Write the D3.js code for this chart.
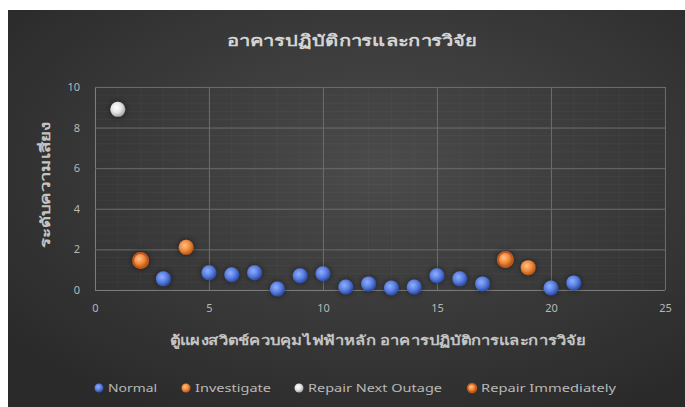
<!DOCTYPE html>
<html>
<head>
<meta charset="utf-8">
<script src="https://cdn.jsdelivr.net/npm/d3@7"></script>
<style>
  html, body { margin: 0; padding: 0; background: #ffffff; }
  svg { display: block; }
  text { font-family: "Noto Sans", "DejaVu Sans", "Liberation Sans", sans-serif; }
</style>
</head>
<body>
<div id="chart"></div>
<script>
// Risk levels of the main switchboards, operations & research building
const chartTitle = "อาคารปฏิบัติการและการวิจัย";
const xAxisTitle = "ตู้แผงสวิตช์ควบคุมไฟฟ้าหลัก อาคารปฏิบัติการและการวิจัย";
const yAxisTitle = "ระดับความเสี่ยง";

const xTicks = [0, 5, 10, 15, 20, 25];
const yTicks = [0, 2, 4, 6, 8, 10];

const seriesNames = ["Normal", "Investigate", "Repair Next Outage", "Repair Immediately"];

const normalX = [3, 5, 6, 7, 8, 9, 10, 11, 12, 13, 14, 15, 16, 17, 20, 21];
const normalY = [0.55, 0.85, 0.75, 0.85, 0.05, 0.7, 0.8, 0.15, 0.3, 0.1, 0.15, 0.7, 0.55, 0.3, 0.1, 0.35];

const investigateX = [4, 19];
const investigateY = [2.1, 1.1];

const repairNextX = [1];
const repairNextY = [8.9];

const repairNowX = [2, 18];
const repairNowY = [1.45, 1.5];

const W = 685, H = 407;
const svg = d3.select("#chart").append("svg").attr("width", W).attr("height", H);
const defs = svg.append("defs");

// background gradient
const bg = defs.append("radialGradient").attr("id", "bg")
  .attr("cx", "55%").attr("cy", "40%").attr("r", "70%");
bg.append("stop").attr("offset", "0%").attr("stop-color", "#4b4b4b");
bg.append("stop").attr("offset", "100%").attr("stop-color", "#2a2a2a");

svg.append("rect").attr("x", 8).attr("y", 10).attr("width", W - 8).attr("height", H - 10)
  .attr("fill", "url(#bg)");

// marker shading
function ball(id, hi, mid, lo) {
  const g = defs.append("radialGradient").attr("id", id)
    .attr("cx", "40%").attr("cy", "38%").attr("r", "62%");
  g.append("stop").attr("offset", "0%").attr("stop-color", hi);
  g.append("stop").attr("offset", "55%").attr("stop-color", mid);
  g.append("stop").attr("offset", "100%").attr("stop-color", lo);
}
ball("gBlue", "#8fb0ff", "#5b7fe0", "#2c4aa8");
ball("gOrange", "#ffc38a", "#f08a3c", "#b9561a");
ball("gGray", "#ffffff", "#e4e4e4", "#a8a8a8");

const glow = defs.append("filter").attr("id", "glow")
  .attr("x", "-80%").attr("y", "-80%").attr("width", "260%").attr("height", "260%");
glow.append("feGaussianBlur").attr("in", "SourceAlpha").attr("stdDeviation", 3).attr("result", "b");
glow.append("feFlood").attr("flood-color", "#000").attr("flood-opacity", 0.55);
glow.append("feComposite").attr("in2", "b").attr("operator", "in").attr("result", "s");
const mg = glow.append("feMerge");
mg.append("feMergeNode").attr("in", "s");
mg.append("feMergeNode").attr("in", "SourceGraphic");

const plot = { left: 95, right: 665, top: 87, bottom: 290 };
const x = d3.scaleLinear().domain([0, 25]).range([plot.left, plot.right]);
const y = d3.scaleLinear().domain([0, 10]).range([plot.bottom, plot.top]);

// minor gridlines
const grid = svg.append("g");
grid.selectAll("line.minorY").data(d3.range(0, 10.01, 0.4)).join("line")
  .attr("x1", plot.left).attr("x2", plot.right)
  .attr("y1", d => y(d)).attr("y2", d => y(d))
  .attr("stroke", "#ffffff").attr("stroke-opacity", 0.035);
grid.selectAll("line.minorX").data(d3.range(0, 25.01, 1)).join("line")
  .attr("y1", plot.top).attr("y2", plot.bottom)
  .attr("x1", d => x(d)).attr("x2", d => x(d))
  .attr("stroke", "#ffffff").attr("stroke-opacity", 0.03);

// major gridlines
const xAxis = d3.axisBottom(x).tickValues(xTicks).tickSize(-(plot.bottom - plot.top)).tickPadding(14);
const yAxis = d3.axisLeft(y).tickValues(yTicks).tickSize(-(plot.right - plot.left)).tickPadding(15);

const gx = svg.append("g").attr("transform", `translate(0,${plot.bottom})`).call(xAxis);
const gy = svg.append("g").attr("transform", `translate(${plot.left},0)`).call(yAxis);
[gx, gy].forEach(g => {
  g.select(".domain").remove();
  g.selectAll(".tick line").attr("stroke", "#6a6a6a");
  g.selectAll(".tick text").attr("fill", "#b8b8b8").attr("font-size", 11);
});
gx.select(".tick line").attr("stroke", "#7c7c7c");
gy.select(".tick line").attr("stroke", "#7c7c7c");

// points
const pts = svg.append("g").attr("filter", "url(#glow)");
function drawSeries(xs, ys, fill, stroke) {
  pts.append("g").selectAll("circle").data(xs.map((d, i) => [d, ys[i]])).join("circle")
    .attr("cx", d => x(d[0])).attr("cy", d => y(d[1])).attr("r", 7.5)
    .attr("fill", fill)
    .attr("stroke", stroke || "none").attr("stroke-width", stroke ? 2 : 0);
}
drawSeries(normalX, normalY, "url(#gBlue)");
drawSeries(investigateX, investigateY, "url(#gOrange)");
drawSeries(repairNextX, repairNextY, "url(#gGray)");
drawSeries(repairNowX, repairNowY, "url(#gOrange)", "#c2561a");

// titles
svg.append("text").attr("x", 352).attr("y", 46).attr("text-anchor", "middle")
  .attr("fill", "#d4d4d4").attr("font-size", 15).attr("font-weight", "bold")
  .attr("textLength", 250).attr("lengthAdjust", "spacingAndGlyphs").text(chartTitle);
svg.append("text").attr("x", 378).attr("y", 345).attr("text-anchor", "middle")
  .attr("fill", "#c4c4c4").attr("font-size", 13).attr("font-weight", "bold")
  .attr("textLength", 416).attr("lengthAdjust", "spacingAndGlyphs").text(xAxisTitle);
svg.append("text").attr("transform", "translate(50,185) rotate(-90)").attr("text-anchor", "middle")
  .attr("fill", "#c4c4c4").attr("font-size", 13).attr("font-weight", "bold")
  .attr("textLength", 126).attr("lengthAdjust", "spacingAndGlyphs").text(yAxisTitle);

// legend
const legendItems = [
  { name: seriesNames[0], fill: "url(#gBlue)", stroke: null, mx: 99, w: 49 },
  { name: seriesNames[1], fill: "url(#gOrange)", stroke: null, mx: 186, w: 76 },
  { name: seriesNames[2], fill: "url(#gGray)", stroke: null, mx: 299, w: 134 },
  { name: seriesNames[3], fill: "url(#gOrange)", stroke: "#c2561a", mx: 472, w: 135 }
];
const lg = svg.append("g");
legendItems.forEach(it => {
  lg.append("circle").attr("cx", it.mx).attr("cy", 388).attr("r", 4.5)
    .attr("fill", it.fill).attr("stroke", it.stroke || "none").attr("stroke-width", it.stroke ? 1.5 : 0);
  lg.append("text").attr("x", it.mx + 9).attr("y", 392).attr("fill", "#b8b8b8")
    .attr("font-size", 11).attr("textLength", it.w).attr("lengthAdjust", "spacingAndGlyphs")
    .text(it.name);
});
</script>
</body>
</html>
